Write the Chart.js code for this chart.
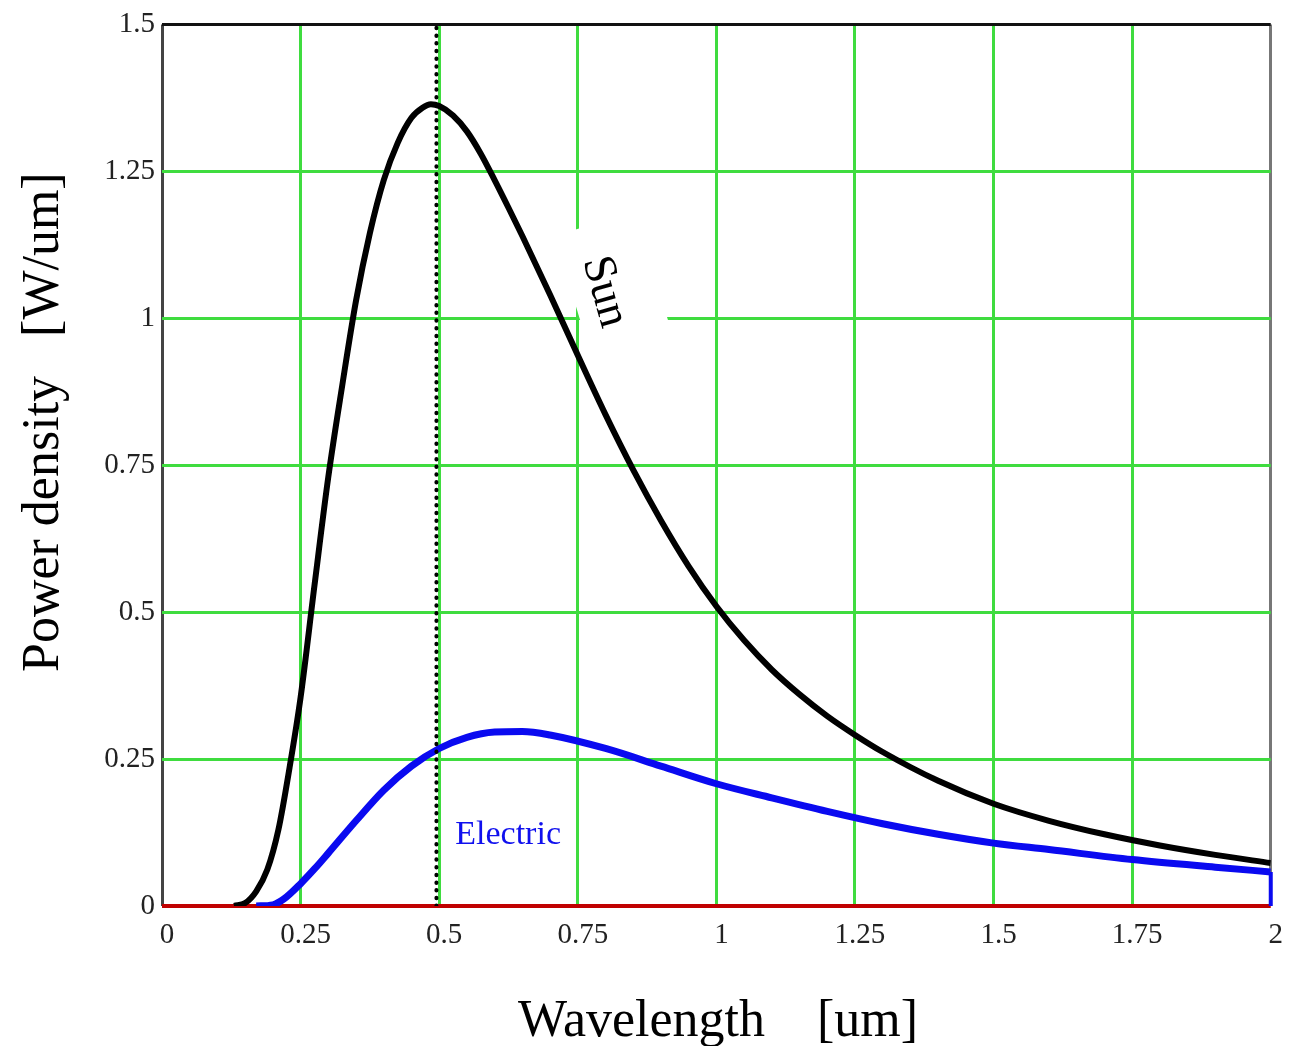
<!DOCTYPE html>
<html>
<head>
<meta charset="utf-8">
<script src="https://cdn.jsdelivr.net/npm/chart.js@4/dist/chart.umd.min.js"></script>
<style>
  html, body { margin: 0; padding: 0; background: #ffffff; }
  #c { display: block; }
</style>
</head>
<body>
<canvas id="c" width="1290" height="1046"></canvas>
<script>
// ---- data ----
const sunWavelength = [0.13, 0.15, 0.17, 0.19, 0.21, 0.23, 0.25, 0.275, 0.3, 0.325, 0.35, 0.375, 0.4, 0.425, 0.45, 0.47, 0.485, 0.5, 0.525, 0.55, 0.575, 0.6, 0.625, 0.65, 0.7, 0.75, 0.8, 0.85, 0.9, 0.95, 1.0, 1.05, 1.1, 1.15, 1.2, 1.25, 1.3, 1.4, 1.5, 1.6, 1.7, 1.8, 1.9, 2.0];
const sunPower = [0, 0.005, 0.025, 0.062, 0.13, 0.235, 0.355, 0.545, 0.73, 0.885, 1.03, 1.145, 1.235, 1.298, 1.341, 1.358, 1.364, 1.361, 1.345, 1.318, 1.28, 1.235, 1.188, 1.14, 1.04, 0.937, 0.836, 0.742, 0.656, 0.578, 0.51, 0.452, 0.402, 0.36, 0.323, 0.291, 0.262, 0.213, 0.174, 0.145, 0.122, 0.103, 0.087, 0.073];

const elecWavelength = [0.17, 0.2, 0.22, 0.25, 0.275, 0.3, 0.35, 0.4, 0.45, 0.5, 0.55, 0.6, 0.65, 0.7, 0.8, 0.9, 1.0, 1.1, 1.2, 1.3, 1.4, 1.5, 1.6, 1.75, 1.9, 2.0];
const elecPower = [0, 0.002, 0.012, 0.038, 0.063, 0.09, 0.145, 0.197, 0.238, 0.268, 0.287, 0.296, 0.297, 0.291, 0.268, 0.238, 0.208, 0.184, 0.161, 0.14, 0.122, 0.107, 0.096, 0.079, 0.066, 0.058];
const elecEndWavelength = [2.0, 2.0];
const elecEndPower = [0.058, 0];

const baseWavelength = [0, 2];
const basePower = [0, 0];

const peakWavelength = [0.495, 0.495];
const peakPower = [0, 1.5];

const xTickValues = [0, 0.25, 0.5, 0.75, 1, 1.25, 1.5, 1.75, 2];
const xTickLabels = ['0', '0.25', '0.5', '0.75', '1', '1.25', '1.5', '1.75', '2'];
const yTickValues = [0, 0.25, 0.5, 0.75, 1, 1.25, 1.5];
const yTickLabels = ['0', '0.25', '0.5', '0.75', '1', '1.25', '1.5'];

const xTitleText = 'Wavelength    [um]';
const yTitleText = 'Power density   [W/um]';
const sunLabel = 'Sun';
const elecLabel = 'Electric';

// ---- helpers ----
function pts(xs, ys) { return xs.map((x, i) => ({ x: x, y: ys[i] })); }
function labelFor(values, labels, v) {
  for (let i = 0; i < values.length; i++) if (Math.abs(values[i] - v) < 1e-9) return labels[i];
  return '';
}
const GREEN = '#3fdc3f';
const SERIF = '"Liberation Serif", "Times New Roman", serif';

const annotations = {
  id: 'annotations',
  beforeDatasetsDraw(chart) {
    const ctx = chart.ctx;
    const xs = chart.scales.x, ys = chart.scales.y;
    // white rotated box behind the "Sun" label
    const cx = xs.getPixelForValue(0.813), cy = ys.getPixelForValue(1.06);
    ctx.save();
    ctx.translate(cx, cy);
    ctx.rotate(73 * Math.PI / 180);
    ctx.fillStyle = '#ffffff';
    ctx.fillRect(-62, -42, 124, 84);
    ctx.restore();
  },
  afterDraw(chart) {
    const ctx = chart.ctx;
    const xs = chart.scales.x, ys = chart.scales.y;
    ctx.save();
    // Sun label
    const sx = xs.getPixelForValue(0.798), sy = ys.getPixelForValue(1.045);
    ctx.translate(sx, sy);
    ctx.rotate(74 * Math.PI / 180);
    ctx.fillStyle = '#000000';
    ctx.font = '46px ' + SERIF;
    ctx.textAlign = 'center';
    ctx.textBaseline = 'middle';
    ctx.fillText(sunLabel, 0, 0);
    ctx.restore();

    // Electric label
    ctx.save();
    ctx.fillStyle = '#1010ee';
    ctx.font = '34px ' + SERIF;
    ctx.textAlign = 'left';
    ctx.textBaseline = 'alphabetic';
    ctx.fillText(elecLabel, xs.getPixelForValue(0.529), ys.getPixelForValue(0.105));
    ctx.restore();

    // axis titles
    ctx.save();
    ctx.fillStyle = '#000000';
    ctx.font = '52px ' + SERIF;
    ctx.textAlign = 'left';
    ctx.textBaseline = 'alphabetic';
    ctx.fillText(xTitleText, 518, 1036);
    ctx.translate(58, 672);
    ctx.rotate(-Math.PI / 2);
    ctx.fillText(yTitleText, 0, 0);
    ctx.restore();
  }
};

new Chart(document.getElementById('c'), {
  type: 'scatter',
  data: {
    datasets: [
      { data: pts(peakWavelength, peakPower), showLine: true, borderColor: '#000000', borderWidth: 4,
        borderDash: [0.5, 7.2], borderCapStyle: 'round', pointRadius: 0, order: 0 },
      { data: pts(sunWavelength, sunPower), showLine: true, borderColor: '#000000', borderWidth: 6,
        cubicInterpolationMode: 'monotone', pointRadius: 0, order: 1 },
      { data: pts(elecWavelength, elecPower), showLine: true, borderColor: '#0a0af0', borderWidth: 7,
        cubicInterpolationMode: 'monotone', pointRadius: 0, order: 2 },
      { data: pts(elecEndWavelength, elecEndPower), showLine: true, borderColor: '#0a0af0', borderWidth: 4,
        pointRadius: 0, order: 2, clip: false },
      { data: pts(baseWavelength, basePower), showLine: true, borderColor: '#c00000', borderWidth: 4,
        pointRadius: 0, order: 3, clip: false }
    ]
  },
  options: {
    responsive: false,
    animation: false,
    events: [],
    layout: { padding: { top: 20, right: 18, left: 0, bottom: 0 } },
    plugins: { legend: { display: false }, tooltip: { enabled: false } },
    scales: {
      x: {
        type: 'linear', min: 0, max: 2,
        afterFit(s) { s.height = 140; },
        afterBuildTicks(s) { s.ticks = xTickValues.map(v => ({ value: v })); },
        border: { display: false },
        grid: {
          drawTicks: false,
          lineWidth: 3,
          color: (c) => {
            const v = c.tick ? c.tick.value : null;
            if (v === 0) return '#444444';
            if (v === 2) return '#777777';
            return GREEN;
          }
        },
        ticks: {
          padding: 12,
          labelOffset: 5,
          color: '#222222',
          font: { family: SERIF, size: 29 },
          maxRotation: 0,
          autoSkip: false,
          callback: (v) => labelFor(xTickValues, xTickLabels, v)
        }
      },
      y: {
        type: 'linear', min: 0, max: 1.5,
        afterFit(s) { s.width = 162; },
        afterBuildTicks(s) { s.ticks = yTickValues.map(v => ({ value: v })); },
        border: { display: false },
        grid: {
          drawTicks: false,
          lineWidth: 3,
          color: (c) => {
            const v = c.tick ? c.tick.value : null;
            if (v === 1.5) return '#111111';
            if (v === 0) return 'rgba(0,0,0,0)';
            return GREEN;
          }
        },
        ticks: {
          padding: 7,
          color: '#222222',
          font: { family: SERIF, size: 29 },
          autoSkip: false,
          callback: (v) => labelFor(yTickValues, yTickLabels, v)
        }
      }
    }
  },
  plugins: [annotations]
});
</script>
</body>
</html>
